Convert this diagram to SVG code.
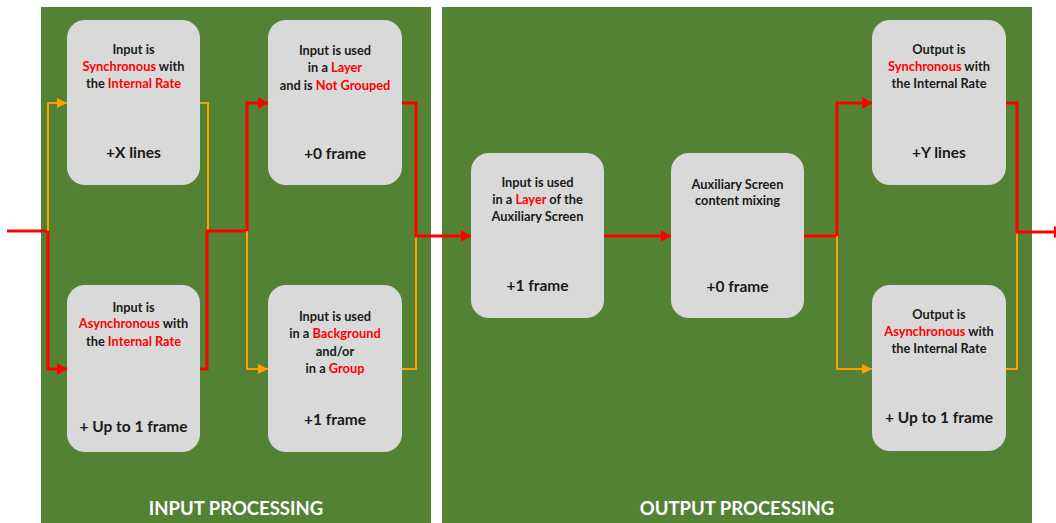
<svg xmlns="http://www.w3.org/2000/svg" width="1056" height="523" viewBox="0 0 1056 523">
  <style>
    .panel { fill: #548235; }
    .box { fill: #d9d9d9; }
    .t { font-family: Lato, "Liberation Sans", sans-serif; font-weight: bold; font-size: 12.8px; fill: #1a1a1a; text-anchor: middle; }
    .big { font-size: 15.5px; }
    .hl { fill: #ff0000; }
    .title { font-family: Lato, "Liberation Sans", sans-serif; font-weight: bold; font-size: 18.5px; fill: #ffffff; text-anchor: middle; }
    .red { fill: none; stroke: #ff0000; stroke-width: 3; }
    .org { fill: none; stroke: #ffa000; stroke-width: 2; }
  </style>
  <defs>
    <marker id="arrRed" viewBox="0 0 10 12" refX="10" refY="6" markerWidth="10" markerHeight="12" markerUnits="userSpaceOnUse" orient="auto">
      <path d="M0,0 L10,6 L0,12 Z" fill="#ff0000"/>
    </marker>
    <marker id="arrOrg" viewBox="0 0 10 10" refX="10" refY="5" markerWidth="10" markerHeight="10" markerUnits="userSpaceOnUse" orient="auto">
      <path d="M0,0 L10,5 L0,10 Z" fill="#ffa000"/>
    </marker>
  </defs>

  <rect width="1056" height="523" fill="#ffffff"/>

  <!-- processing stages -->
  <g id="input-panel">
    <rect class="panel" x="41" y="7" width="390" height="516"/>
    <text class="title" x="236" y="515">INPUT PROCESSING</text>
  </g>
  <g id="output-panel">
    <rect class="panel" x="442" y="7" width="590" height="516"/>
    <text class="title" x="737" y="515">OUTPUT PROCESSING</text>
  </g>

  <!-- connectors -->
  <g id="connectors">
    <!-- incoming signal -->
    <path class="red" d="M7,231 H48 V369 H67" marker-end="url(#arrRed)"/>
    <path class="org" d="M48,231 V103 H67" marker-end="url(#arrOrg)"/>
    <!-- join after input sync stage -->
    <path class="org" d="M200,103 H208 V231"/>
    <path class="red" d="M200,369 H207 V231 H247 V103 H268" marker-end="url(#arrRed)"/>
    <path class="org" d="M247,231 V369 H268" marker-end="url(#arrOrg)"/>
    <!-- join after layer stage -->
    <path class="org" d="M402,369 H416 V236"/>
    <path class="red" d="M402,103 H416 V236 H471" marker-end="url(#arrRed)"/>
    <path class="red" d="M604,236 H671" marker-end="url(#arrRed)"/>
    <!-- output branch -->
    <path class="red" d="M804,236 H837 V103 H872" marker-end="url(#arrRed)"/>
    <path class="org" d="M837,236 V369 H872" marker-end="url(#arrOrg)"/>
    <path class="org" d="M1006,369 H1017 V232"/>
    <path class="red" d="M1006,103 H1017 V232 H1064" marker-end="url(#arrRed)"/>
  </g>

  <g id="in-sync">
    <rect class="box" x="67" y="20" width="133" height="165" rx="18"/>
    <text class="t" x="133.5" y="54">Input is</text>
    <text class="t" x="133.5" y="71"><tspan class="hl">Synchronous</tspan> with</text>
    <text class="t" x="133.5" y="88">the <tspan class="hl">Internal Rate</tspan></text>
    <text class="t big" x="133.5" y="158">+X lines</text>
  </g>

  <g id="in-async">
    <rect class="box" x="67" y="285" width="133" height="167" rx="18"/>
    <text class="t" x="133.5" y="312">Input is</text>
    <text class="t" x="133.5" y="328"><tspan class="hl">Asynchronous</tspan> with</text>
    <text class="t" x="133.5" y="346">the <tspan class="hl">Internal Rate</tspan></text>
    <text class="t big" x="133.5" y="432">+ Up to 1 frame</text>
  </g>

  <g id="layer-not-grouped">
    <rect class="box" x="268" y="20" width="134" height="165" rx="18"/>
    <text class="t" x="335" y="55">Input is used</text>
    <text class="t" x="335" y="72">in a <tspan class="hl">Layer</tspan></text>
    <text class="t" x="335" y="90">and is <tspan class="hl">Not Grouped</tspan></text>
    <text class="t big" x="335" y="159">+0 frame</text>
  </g>

  <g id="background-group">
    <rect class="box" x="268" y="285" width="134" height="167" rx="18"/>
    <text class="t" x="335" y="321">Input is used</text>
    <text class="t" x="335" y="338">in a <tspan class="hl">Background</tspan></text>
    <text class="t" x="335" y="356">and/or</text>
    <text class="t" x="335" y="373">in a <tspan class="hl">Group</tspan></text>
    <text class="t big" x="335" y="425">+1 frame</text>
  </g>

  <g id="aux-layer">
    <rect class="box" x="471" y="153" width="133" height="165" rx="18"/>
    <text class="t" x="537.5" y="187">Input is used</text>
    <text class="t" x="537.5" y="204">in a <tspan class="hl">Layer</tspan> of the</text>
    <text class="t" x="537.5" y="221">Auxiliary Screen</text>
    <text class="t big" x="537.5" y="291">+1 frame</text>
  </g>

  <g id="aux-mixing">
    <rect class="box" x="671" y="153" width="133" height="165" rx="18"/>
    <text class="t" x="737.5" y="189">Auxiliary Screen</text>
    <text class="t" x="737.5" y="205">content mixing</text>
    <text class="t big" x="737.5" y="292">+0 frame</text>
  </g>

  <g id="out-sync">
    <rect class="box" x="872" y="20" width="134" height="165" rx="18"/>
    <text class="t" x="939" y="54">Output is</text>
    <text class="t" x="939" y="71"><tspan class="hl">Synchronous</tspan> with</text>
    <text class="t" x="939" y="88">the Internal Rate</text>
    <text class="t big" x="939" y="158">+Y lines</text>
  </g>

  <g id="out-async">
    <rect class="box" x="872" y="285" width="134" height="166" rx="18"/>
    <text class="t" x="939" y="319">Output is</text>
    <text class="t" x="939" y="336"><tspan class="hl">Asynchronous</tspan> with</text>
    <text class="t" x="939" y="353">the Internal Rate</text>
    <text class="t big" x="939" y="423">+ Up to 1 frame</text>
  </g>
</svg>
